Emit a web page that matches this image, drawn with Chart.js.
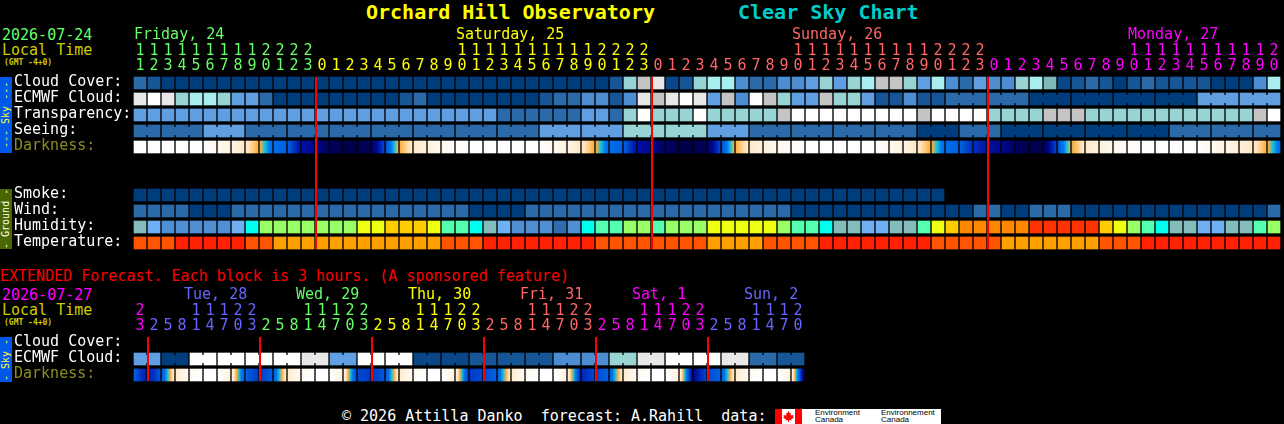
<!DOCTYPE html>
<html>
<head>
<meta charset="utf-8">
<title>Clear Sky Chart</title>
<script src="https://cdn.jsdelivr.net/npm/chart.js@4"></script>
<style>
html, body { margin: 0; padding: 0; background: #000; overflow: hidden; }
body { position: relative; width: 1284px; height: 424px; font-family: "DejaVu Sans Mono", monospace; font-size: 15px; }
canvas { position: absolute; left: 0; }
.t { position: absolute; white-space: pre; line-height: 16px; }
.band { position: absolute; left: 0; width: 12px; font-size: 10px; line-height: 12px; text-align: center; writing-mode: vertical-rl; transform: rotate(180deg); white-space: pre; }
</style>
</head>
<body>
<div class="t" style="left:366px;top:0;font-size:20px;line-height:24px;font-weight:bold;color:#ffff00">Orchard Hill Observatory</div>
<div class="t" style="left:738px;top:0;font-size:20px;line-height:24px;font-weight:bold;color:#00cccc">Clear Sky Chart</div>
<div class="t" style="left:2px;top:27px;color:#66ff66">2026-07-24</div>
<div class="t" style="left:2px;top:42px;color:#cccc00">Local Time</div>
<div class="t" style="left:4px;top:55px;font-size:8px;font-weight:bold;color:#cccc00">(GMT -4+0)</div>
<div class="band" style="top:77px;height:76px;background:#0058e8;color:#ffff33">--- Sky ---</div>
<div class="band" style="top:189px;height:60px;background:#4a6600;color:#ffffff">- Ground -</div>
<canvas id="mainChart" width="1284" height="264" style="top:0"></canvas>

<div class="t" style="left:0;top:268px;color:#ff0000">EXTENDED Forecast. Each block is 3 hours. (A sponsored feature)</div>
<div class="t" style="left:2px;top:287px;color:#ff00ff">2026-07-27</div>
<div class="t" style="left:2px;top:302px;color:#cccc00">Local Time</div>
<div class="t" style="left:4px;top:315px;font-size:8px;font-weight:bold;color:#cccc00">(GMT -4+0)</div>
<div class="band" style="top:337px;height:45px;background:#0058e8;color:#ffff33">- Sky -</div>
<canvas id="extChart" width="1284" height="111" style="top:285px"></canvas>

<div class="t" style="left:342px;top:408px;color:#ffffff">&copy; 2026 Attilla Danko  forecast: A.Rahill  data:</div>
<div style="position:absolute;left:775px;top:409px;width:166px;height:15px;background:#fff;overflow:hidden">
  <div style="position:absolute;left:0;top:0;width:7px;height:15px;background:#ff0000"></div>
  <div style="position:absolute;left:20px;top:0;width:7px;height:15px;background:#ff0000"></div>
  <svg style="position:absolute;left:8px;top:2px" width="11" height="11" viewBox="0 0 11 11"><path d="M5.5 0 L7 2.5 L8 2 L7.6 4.5 L10.5 4 L10 6 L11 6.5 L8 8.5 L8.5 9.5 L6 9 L6 11 L5 11 L5 9 L2.5 9.5 L3 8.5 L0 6.5 L1 6 L0.5 4 L3.4 4.5 L3 2 L4 2.5 Z" fill="#ff0000"/></svg>
  <div class="t" style="left:40px;top:0;font:8px/7px 'Liberation Sans',sans-serif;color:#000">Environment
Canada</div>
  <div class="t" style="left:106px;top:0;font:8px/7px 'Liberation Sans',sans-serif;color:#000">Environnement
Canada</div>
</div>

<script>
// Hours along the top of the main chart, one block per hour
var hours = [11,12,13,14,15,16,17,18,19,20,21,22,23,
    0,1,2,3,4,5,6,7,8,9,10,11,12,13,14,15,16,17,18,19,20,21,22,23,
    0,1,2,3,4,5,6,7,8,9,10,11,12,13,14,15,16,17,18,19,20,21,22,23,
    0,1,2,3,4,5,6,7,8,9,10,11,12,13,14,15,16,17,18,19,20];
var dayNames = ["Friday, 24", "Saturday, 25", "Sunday, 26", "Monday, 27"];
var dayNameHours = [0, 23, 47, 71];
var midnights = [13, 37, 61];
var dayColors = ["#66ff66", "#ffff00", "#ff6666", "#ff00ff"];

// Sky and cloud levels, 0 = clear/dark blue, 11 = white
var cloudCover = [3,2,0,0,0,0,0,0,0,0,0,0,0,0,0,0,0,0,0,0,0,0,0,0,0,0,0,0,0,0,0,0,0,0,2,7,9,10,1,2,7,8,8,4,3,3,4,4,5,7,5,7,
    8,9,9,7,5,8,4,3,5,4,4,7,8,6,1,2,3,2,0,2,3,2,2,2,2,0,0,0,4,8];
var ecmwfCloud = [10,11,10,7,8,8,7,5,5,3,0,0,0,0,0,0,0,0,0,2,3,0,0,0,0,0,0,0,0,2,3,3,4,4,2,4,10,9,10,11,10,5,9,4,11,9,7,5,5,9,7,7,
    5,2,2,4,2,2,3,3,3,3,3,3,0,0,0,0,0,0,0,0,0,0,0,0,5,5,5,5,5,5];
var transparency = [5,5,5,5,5,5,5,5,5,5,5,5,5,5,5,5,5,5,5,5,5,5,5,5,5,5,3,3,3,3,3,3,5,5,3,7,11,7,7,7,11,7,7,7,7,7,9,11,11,11,11,11,
    11,11,11,11,9,11,11,11,11,7,7,7,7,9,9,9,7,7,7,7,7,7,7,7,7,7,7,7,9,11];
var seeing = [3,3,3,3,3,5,5,5,3,3,3,3,3,3,3,3,3,3,3,3,3,3,3,3,3,3,3,3,3,5,5,5,5,5,5,7,7,7,7,7,7,5,5,5,3,3,3,3,3,3,3,3,
    3,3,3,3,0,0,0,3,3,3,0,0,0,0,0,0,0,0,0,0,0,0,3,3,3,3,3,3,3,3];
var smoke = [0,0,0,0,0,0,0,0,0,0,0,0,0,0,0,0,0,0,0,0,0,0,0,0,0,0,0,0,0,0,0,0,0,0,0,0,0,0,0,0,0,0,0,0,0,0,0,0,0,0,0,0,0,0,0,0,0,0];
var wind = [3,3,3,3,0,0,0,3,3,3,3,3,3,3,3,3,3,3,3,3,3,3,3,3,0,0,0,0,3,3,3,3,3,3,3,3,3,3,3,3,3,3,3,3,3,3,3,0,0,0,0,0,
    0,0,0,0,0,0,0,0,3,3,0,0,3,3,3,0,0,0,0,0,0,0,0,0,0,0,0,0,0,3];
// Humidity classes, see humidityColors
var humidity = [0,1,2,2,2,2,2,1,4,6,6,6,6,6,6,6,7,7,8,8,8,7,5,5,4,0,1,2,2,2,3,2,4,5,5,6,6,5,6,6,6,7,7,7,7,7,6,5,5,4,0,0,
    1,1,0,0,5,7,8,9,9,9,9,9,10,10,10,10,10,8,7,6,5,4,0,0,1,1,0,0,5,6];
// Temperature classes, see temperatureColors
var temperature = [1,1,1,0,0,0,0,0,1,1,2,2,2,2,2,2,2,2,2,2,2,2,1,1,1,0,0,0,0,0,0,0,0,1,1,1,1,1,1,1,1,2,2,2,2,1,1,1,1,0,0,0,
    0,0,0,0,0,1,1,1,1,1,2,2,2,2,2,2,2,1,1,1,0,0,0,0,0,0,0,0,0,0];
// Darkness level read at the block edges, 0 = day, 10 = full dark
var darkness = [0,0,0,0,0,0,0.6,1,1.8,3,5.5,6,7.8,8.3,9.2,9.8,10,9.2,6.5,3,1.8,1.2,0.6,0.2,0,0,0,0,0,0,0.6,1,1.8,3,5.5,6,7.8,8.3,9,9.8,10,9.2,6.5,3,1.8,1.2,0.7,0.3,0,0,0,0,0,
    0,0.6,1,1.8,3,5.5,6,7,7.8,8.3,9,10,9.5,6.5,3.2,1.8,1.2,0.7,0.3,0,0,0,0,0,0.6,1,1.4,1.8,3,5.5];

// Extended forecast, one block per 3 hours
var extHours = [23,
    2,5,8,11,14,17,20,23, 2,5,8,11,14,17,20,23, 2,5,8,11,14,17,20,23,
    2,5,8,11,14,17,20,23, 2,5,8,11,14,17,20,23, 2,5,8,11,14,17,20];
var extDayNames = ["Tue, 28", "Wed, 29", "Thu, 30", "Fri, 31", "Sat, 1", "Sun, 2"];
var extDayHours = [4, 12, 20, 28, 36, 44];
var extMidnights = [1, 9, 17, 25, 33, 41];
var extDayColors = ["#ff00ff", "#6666ff", "#66ff66", "#ffff00", "#ff6666", "#ff00ff", "#6666ff"];
var extEcmwf = [5,5,0,0,11,11,11,11,11,11,11,11,10,10,5,5,11,11,11,11,1,1,1,1,2,2,2,2,2,2,4,4,4,4,7,7,10,10,11,11,11,11,10,10,3,3,2,2];
var extDarkness = [6,7.6,6.2,1.6,0.5,0,0,1.2,6,6.8,6,1.6,0.5,0,0,1.2,6.5,6.8,6.2,1.6,0.4,0,0,1.2,6.8,6.5,6,1.6,0.4,0,0,1.2,7.2,6.5,6,1.6,0.4,0,0,1.2,8.2,6.5,6,1.6,0.4,0,0,1.2,9];

var rowLabels = {0: "Cloud Cover:", 1: "ECMWF Cloud:", 2: "Transparency:", 3: "Seeing:", 4: "Darkness:",
    7: "Smoke:", 8: "Wind:", 9: "Humidity:", 10: "Temperature:"};
var extRowLabels = {0: "Cloud Cover:", 1: "ECMWF Cloud:", 2: "Darkness:"};

var skyColors = ["#003d7d", "#0a4788", "#165596", "#2b6aa9", "#4d8dd1", "#609fe2", "#7fbaba", "#98d4d4", "#a9eeee", "#c4c4c4", "#e8e8e8", "#ffffff"];
var humidityColors = ["#84bcbc", "#6fb0f5", "#4f8fd4", "#2e6dae", "#00ffee", "#55ffb0", "#99ff66", "#eeff11", "#ffcc00", "#ff8800", "#ff3300"];
var temperatureColors = ["#ff2200", "#ff5500", "#ffa000"];
var darknessColors = ["#ffffff", "#fff4e4", "#ffe6c4", "#ffb040", "#20c0d8", "#0078f0", "#0062e0", "#0030c0", "#000c9c", "#000068", "#000048"];

var textFont = {family: "'DejaVu Sans Mono', monospace", size: 15, lineHeight: 1};

// Same hour digits colour for a whole day
function dayIndexes(list) {
    var day = 0, out = [];
    for (var i = 0; i < list.length; i++) {
        if (i > 0 && list[i] < list[i - 1]) day++;
        out.push(day);
    }
    return out;
}

// Float a row of blocks at its row number on the y scale
function rowBars(values, row) {
    return values.map(function() { return [row - 0.375, row + 0.375]; });
}

function rowDataset(values, row, colors) {
    return {
        data: rowBars(values, row),
        backgroundColor: values.map(function(v) { return colors[v]; })
    };
}

function darknessDataset(edges, row) {
    var values = edges.slice(1);
    return {
        data: rowBars(values, row),
        backgroundColor: function(ctx) {
            var i = ctx.dataIndex;
            if (i === undefined || !ctx.chart.chartArea) return "#000";
            var x = ctx.chart.scales.x.getPixelForValue(i);
            var g = ctx.chart.ctx.createLinearGradient(x - 6, 0, x + 6, 0);
            var a = edges[i], b = edges[i + 1];
            g.addColorStop(0, darknessColor(a));
            // Add every ramp step that lies between the two edges
            for (var s = 1; s < darknessColors.length - 1; s++) {
                if ((s - a) * (s - b) < 0) g.addColorStop((s - a) / (b - a), darknessColors[s]);
            }
            g.addColorStop(1, darknessColor(b));
            return g;
        }
    };
}

function darknessColor(level) {
    var lo = Math.floor(level), hi = Math.min(lo + 1, darknessColors.length - 1), t = level - lo;
    function ch(c, p) { return parseInt(c.substr(p, 2), 16); }
    var parts = [1, 3, 5].map(function(p) {
        return Math.round(ch(darknessColors[lo], p) * (1 - t) + ch(darknessColors[hi], p) * t);
    });
    return "rgb(" + parts.join(",") + ")";
}

// Bridges between joined blocks, midnight lines and day names
var overlayPlugin = {
    id: "overlay",
    afterDatasetsDraw: function(chart, args, opts) {
        var ctx = chart.ctx, x = chart.scales.x, y = chart.scales.y;
        opts.bridges.forEach(function(b) {
            var meta = chart.getDatasetMeta(b.dataset);
            meta.data.forEach(function(bar, i) {
                if (i + 1 >= meta.data.length || !b.joined(i)) return;
                ctx.fillStyle = chart.data.datasets[b.dataset].backgroundColor[i];
                ctx.fillRect(x.getPixelForValue(i) + 6, y.getPixelForValue(b.row - 0.25), 2, y.getPixelForValue(b.row + 0.25) - y.getPixelForValue(b.row - 0.25));
            });
        });
        ctx.fillStyle = "#ff0000";
        opts.midnights.forEach(function(i) {
            ctx.fillRect(x.getPixelForValue(i) - 7, y.getPixelForValue(-0.375), 2, y.getPixelForValue(opts.lastRow + 0.375) - y.getPixelForValue(-0.375));
        });
        ctx.font = "15px 'DejaVu Sans Mono', monospace";
        ctx.textAlign = "left";
        ctx.textBaseline = "alphabetic";
        opts.names.forEach(function(name, n) {
            ctx.fillStyle = opts.nameColors[n];
            ctx.fillText(name, x.getPixelForValue(opts.nameHours[n]) - 6 + opts.nameShift, opts.nameY);
        });
    }
};

function makeChart(id, hourList, colorsByDay, datasets, labelsByRow, lastRow, axisHeight, overlay) {
    var days = dayIndexes(hourList);
    return new Chart(document.getElementById(id).getContext("2d"), {
        type: "bar",
        data: {labels: hourList.map(String), datasets: datasets},
        plugins: [overlayPlugin],
        options: {
            responsive: false,
            animation: false,
            events: [],
            // bottom has to stay bigger than the y axis own label padding
            layout: {autoPadding: false, padding: {left: 14, right: 1284 - 133 - hourList.length * 14, top: 0, bottom: 13}},
            datasets: {bar: {grouped: false, barThickness: 12, borderWidth: 0, borderSkipped: false}},
            plugins: {legend: {display: false}, title: {display: false}, tooltip: {enabled: false}, overlay: overlay},
            scales: {
                x: {
                    position: "top",
                    grid: {display: false},
                    border: {display: false},
                    afterFit: function(scale) { scale.height = axisHeight; },
                    ticks: {
                        autoSkip: false,
                        maxRotation: 0,
                        padding: -7,
                        font: textFont,
                        color: function(ctx) { return colorsByDay[days[ctx.index]]; },
                        callback: function(value, index) {
                            var h = hourList[index];
                            return [h >= 10 ? String(Math.floor(h / 10)) : " ", String(h % 10)];
                        }
                    }
                },
                y: {
                    reverse: true,
                    min: -0.5,
                    max: lastRow + 0.5,
                    grid: {display: false},
                    border: {display: false},
                    afterFit: function(scale) { scale.width = 119; },
                    afterBuildTicks: function(scale) {
                        scale.ticks = Object.keys(labelsByRow).map(function(r) { return {value: Number(r)}; });
                    },
                    ticks: {
                        autoSkip: false,
                        crossAlign: "far",
                        labelOffset: -1,
                        font: textFont,
                        color: function(ctx) { return labelsByRow[ctx.tick.value] === "Darkness:" ? "#8c8c22" : "#ffffff"; },
                        callback: function(value) { return labelsByRow[value]; }
                    }
                }
            }
        }
    });
}

makeChart("mainChart", hours, dayColors, [
    rowDataset(cloudCover, 0, skyColors),
    rowDataset(ecmwfCloud, 1, skyColors),
    rowDataset(transparency, 2, skyColors),
    rowDataset(seeing, 3, skyColors),
    darknessDataset(darkness, 4),
    rowDataset(smoke, 7, skyColors),
    rowDataset(wind, 8, skyColors),
    rowDataset(humidity, 9, humidityColors),
    rowDataset(temperature, 10, temperatureColors)
], rowLabels, 10, 75, {
    bridges: [
        {dataset: 3, row: 3, joined: function(i) { return (i - 1) % 3 !== 0; }},
        {dataset: 1, row: 1, joined: function(i) { return i >= 58 && i % 3 !== 0; }}
    ],
    midnights: midnights,
    lastRow: 10,
    names: dayNames,
    nameHours: dayNameHours,
    nameColors: dayColors,
    nameShift: 0,
    nameY: 39
});

makeChart("extChart", extHours, extDayColors, [
    rowDataset(extEcmwf, 1, skyColors),
    darknessDataset(extDarkness, 2)
], extRowLabels, 2, 50, {
    bridges: [{dataset: 0, row: 1, joined: function(i) { return i % 2 === 0; }}],
    midnights: extMidnights,
    lastRow: 2,
    names: extDayNames,
    nameHours: extDayHours,
    nameColors: ["#6666ff", "#66ff66", "#ffff00", "#ff6666", "#ff00ff", "#6666ff"],
    nameShift: -6,
    nameY: 14
});
</script>
</body>
</html>
